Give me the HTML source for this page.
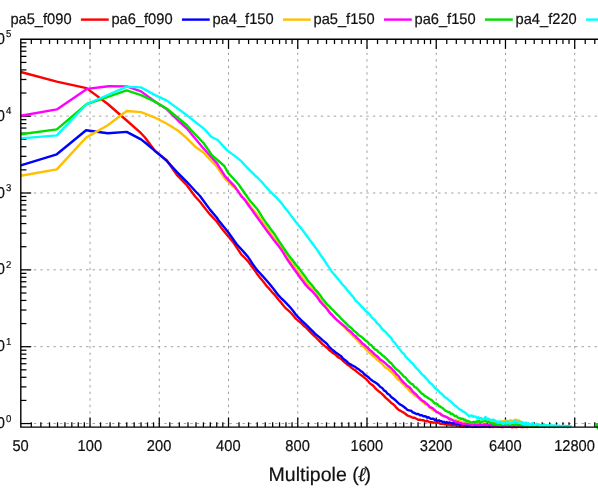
<!DOCTYPE html>
<html><head><meta charset="utf-8"><title>Noise power spectra</title>
<style>
html,body{margin:0;padding:0;background:#fff;}
body{width:598px;height:490px;overflow:hidden;font-family:"Liberation Sans",sans-serif;}
svg{display:block;will-change:transform;}
svg text{font-family:"Liberation Sans",sans-serif;fill:#111;stroke:#111;stroke-width:0.2px;text-rendering:geometricPrecision;}
.lg{font-size:14.67px;}
.tk{font-size:14.67px;}
.sp{font-size:9.6px;}
.ti{font-size:19.55px;}
.grid line{stroke:#a2a2a2;stroke-width:1;stroke-dasharray:2.45 4.07;}
.ax line,.ax path{stroke:#000;fill:none;}
.cv path{fill:none;stroke-width:2.4;stroke-linejoin:round;stroke-linecap:butt;}
</style></head><body>
<svg width="598" height="490" viewBox="0 0 598 490">
<rect x="0" y="0" width="598" height="490" fill="#ffffff"/>
<g>
<g class="grid">
<line x1="90.04" y1="39.30" x2="90.04" y2="427.10" stroke-dashoffset="-0.30"/>
<line x1="159.28" y1="39.30" x2="159.28" y2="427.10" stroke-dashoffset="-0.30"/>
<line x1="228.52" y1="39.30" x2="228.52" y2="427.10" stroke-dashoffset="-0.30"/>
<line x1="297.76" y1="39.30" x2="297.76" y2="427.10" stroke-dashoffset="-0.30"/>
<line x1="367.00" y1="39.30" x2="367.00" y2="427.10" stroke-dashoffset="-0.30"/>
<line x1="436.24" y1="39.30" x2="436.24" y2="427.10" stroke-dashoffset="-0.30"/>
<line x1="505.48" y1="39.30" x2="505.48" y2="427.10" stroke-dashoffset="-0.30"/>
<line x1="574.72" y1="39.30" x2="574.72" y2="427.10" stroke-dashoffset="-0.30"/>
<line x1="20.80" y1="423.55" x2="640.00" y2="423.55" stroke-dashoffset="0.00"/>
<line x1="20.80" y1="346.70" x2="640.00" y2="346.70" stroke-dashoffset="0.00"/>
<line x1="20.80" y1="269.85" x2="640.00" y2="269.85" stroke-dashoffset="0.00"/>
<line x1="20.80" y1="193.00" x2="640.00" y2="193.00" stroke-dashoffset="0.00"/>
<line x1="20.80" y1="116.15" x2="640.00" y2="116.15" stroke-dashoffset="0.00"/>
</g>
<g class="ax">
<line x1="31.32" y1="427.10" x2="31.32" y2="422.30" stroke-width="1.25"/>
<line x1="31.32" y1="39.30" x2="31.32" y2="44.10" stroke-width="1.25"/>
<line x1="40.85" y1="427.10" x2="40.85" y2="422.30" stroke-width="1.25"/>
<line x1="40.85" y1="39.30" x2="40.85" y2="44.10" stroke-width="1.25"/>
<line x1="49.54" y1="427.10" x2="49.54" y2="422.30" stroke-width="1.25"/>
<line x1="49.54" y1="39.30" x2="49.54" y2="44.10" stroke-width="1.25"/>
<line x1="57.53" y1="427.10" x2="57.53" y2="422.30" stroke-width="1.25"/>
<line x1="57.53" y1="39.30" x2="57.53" y2="44.10" stroke-width="1.25"/>
<line x1="64.94" y1="427.10" x2="64.94" y2="422.30" stroke-width="1.25"/>
<line x1="64.94" y1="39.30" x2="64.94" y2="44.10" stroke-width="1.25"/>
<line x1="71.83" y1="427.10" x2="71.83" y2="422.30" stroke-width="1.25"/>
<line x1="71.83" y1="39.30" x2="71.83" y2="44.10" stroke-width="1.25"/>
<line x1="78.27" y1="427.10" x2="78.27" y2="422.30" stroke-width="1.25"/>
<line x1="78.27" y1="39.30" x2="78.27" y2="44.10" stroke-width="1.25"/>
<line x1="84.33" y1="427.10" x2="84.33" y2="422.30" stroke-width="1.25"/>
<line x1="84.33" y1="39.30" x2="84.33" y2="44.10" stroke-width="1.25"/>
<line x1="90.04" y1="427.10" x2="90.04" y2="417.50" stroke-width="1.25"/>
<line x1="90.04" y1="39.30" x2="90.04" y2="48.90" stroke-width="1.25"/>
<line x1="100.56" y1="427.10" x2="100.56" y2="422.30" stroke-width="1.25"/>
<line x1="100.56" y1="39.30" x2="100.56" y2="44.10" stroke-width="1.25"/>
<line x1="110.09" y1="427.10" x2="110.09" y2="422.30" stroke-width="1.25"/>
<line x1="110.09" y1="39.30" x2="110.09" y2="44.10" stroke-width="1.25"/>
<line x1="118.78" y1="427.10" x2="118.78" y2="422.30" stroke-width="1.25"/>
<line x1="118.78" y1="39.30" x2="118.78" y2="44.10" stroke-width="1.25"/>
<line x1="126.77" y1="427.10" x2="126.77" y2="422.30" stroke-width="1.25"/>
<line x1="126.77" y1="39.30" x2="126.77" y2="44.10" stroke-width="1.25"/>
<line x1="134.18" y1="427.10" x2="134.18" y2="422.30" stroke-width="1.25"/>
<line x1="134.18" y1="39.30" x2="134.18" y2="44.10" stroke-width="1.25"/>
<line x1="141.07" y1="427.10" x2="141.07" y2="422.30" stroke-width="1.25"/>
<line x1="141.07" y1="39.30" x2="141.07" y2="44.10" stroke-width="1.25"/>
<line x1="147.51" y1="427.10" x2="147.51" y2="422.30" stroke-width="1.25"/>
<line x1="147.51" y1="39.30" x2="147.51" y2="44.10" stroke-width="1.25"/>
<line x1="153.57" y1="427.10" x2="153.57" y2="422.30" stroke-width="1.25"/>
<line x1="153.57" y1="39.30" x2="153.57" y2="44.10" stroke-width="1.25"/>
<line x1="159.28" y1="427.10" x2="159.28" y2="417.50" stroke-width="1.25"/>
<line x1="159.28" y1="39.30" x2="159.28" y2="48.90" stroke-width="1.25"/>
<line x1="169.80" y1="427.10" x2="169.80" y2="422.30" stroke-width="1.25"/>
<line x1="169.80" y1="39.30" x2="169.80" y2="44.10" stroke-width="1.25"/>
<line x1="179.33" y1="427.10" x2="179.33" y2="422.30" stroke-width="1.25"/>
<line x1="179.33" y1="39.30" x2="179.33" y2="44.10" stroke-width="1.25"/>
<line x1="188.02" y1="427.10" x2="188.02" y2="422.30" stroke-width="1.25"/>
<line x1="188.02" y1="39.30" x2="188.02" y2="44.10" stroke-width="1.25"/>
<line x1="196.01" y1="427.10" x2="196.01" y2="422.30" stroke-width="1.25"/>
<line x1="196.01" y1="39.30" x2="196.01" y2="44.10" stroke-width="1.25"/>
<line x1="203.42" y1="427.10" x2="203.42" y2="422.30" stroke-width="1.25"/>
<line x1="203.42" y1="39.30" x2="203.42" y2="44.10" stroke-width="1.25"/>
<line x1="210.31" y1="427.10" x2="210.31" y2="422.30" stroke-width="1.25"/>
<line x1="210.31" y1="39.30" x2="210.31" y2="44.10" stroke-width="1.25"/>
<line x1="216.75" y1="427.10" x2="216.75" y2="422.30" stroke-width="1.25"/>
<line x1="216.75" y1="39.30" x2="216.75" y2="44.10" stroke-width="1.25"/>
<line x1="222.81" y1="427.10" x2="222.81" y2="422.30" stroke-width="1.25"/>
<line x1="222.81" y1="39.30" x2="222.81" y2="44.10" stroke-width="1.25"/>
<line x1="228.52" y1="427.10" x2="228.52" y2="417.50" stroke-width="1.25"/>
<line x1="228.52" y1="39.30" x2="228.52" y2="48.90" stroke-width="1.25"/>
<line x1="239.04" y1="427.10" x2="239.04" y2="422.30" stroke-width="1.25"/>
<line x1="239.04" y1="39.30" x2="239.04" y2="44.10" stroke-width="1.25"/>
<line x1="248.57" y1="427.10" x2="248.57" y2="422.30" stroke-width="1.25"/>
<line x1="248.57" y1="39.30" x2="248.57" y2="44.10" stroke-width="1.25"/>
<line x1="257.26" y1="427.10" x2="257.26" y2="422.30" stroke-width="1.25"/>
<line x1="257.26" y1="39.30" x2="257.26" y2="44.10" stroke-width="1.25"/>
<line x1="265.25" y1="427.10" x2="265.25" y2="422.30" stroke-width="1.25"/>
<line x1="265.25" y1="39.30" x2="265.25" y2="44.10" stroke-width="1.25"/>
<line x1="272.66" y1="427.10" x2="272.66" y2="422.30" stroke-width="1.25"/>
<line x1="272.66" y1="39.30" x2="272.66" y2="44.10" stroke-width="1.25"/>
<line x1="279.55" y1="427.10" x2="279.55" y2="422.30" stroke-width="1.25"/>
<line x1="279.55" y1="39.30" x2="279.55" y2="44.10" stroke-width="1.25"/>
<line x1="285.99" y1="427.10" x2="285.99" y2="422.30" stroke-width="1.25"/>
<line x1="285.99" y1="39.30" x2="285.99" y2="44.10" stroke-width="1.25"/>
<line x1="292.05" y1="427.10" x2="292.05" y2="422.30" stroke-width="1.25"/>
<line x1="292.05" y1="39.30" x2="292.05" y2="44.10" stroke-width="1.25"/>
<line x1="297.76" y1="427.10" x2="297.76" y2="417.50" stroke-width="1.25"/>
<line x1="297.76" y1="39.30" x2="297.76" y2="48.90" stroke-width="1.25"/>
<line x1="308.28" y1="427.10" x2="308.28" y2="422.30" stroke-width="1.25"/>
<line x1="308.28" y1="39.30" x2="308.28" y2="44.10" stroke-width="1.25"/>
<line x1="317.81" y1="427.10" x2="317.81" y2="422.30" stroke-width="1.25"/>
<line x1="317.81" y1="39.30" x2="317.81" y2="44.10" stroke-width="1.25"/>
<line x1="326.50" y1="427.10" x2="326.50" y2="422.30" stroke-width="1.25"/>
<line x1="326.50" y1="39.30" x2="326.50" y2="44.10" stroke-width="1.25"/>
<line x1="334.49" y1="427.10" x2="334.49" y2="422.30" stroke-width="1.25"/>
<line x1="334.49" y1="39.30" x2="334.49" y2="44.10" stroke-width="1.25"/>
<line x1="341.90" y1="427.10" x2="341.90" y2="422.30" stroke-width="1.25"/>
<line x1="341.90" y1="39.30" x2="341.90" y2="44.10" stroke-width="1.25"/>
<line x1="348.79" y1="427.10" x2="348.79" y2="422.30" stroke-width="1.25"/>
<line x1="348.79" y1="39.30" x2="348.79" y2="44.10" stroke-width="1.25"/>
<line x1="355.23" y1="427.10" x2="355.23" y2="422.30" stroke-width="1.25"/>
<line x1="355.23" y1="39.30" x2="355.23" y2="44.10" stroke-width="1.25"/>
<line x1="361.29" y1="427.10" x2="361.29" y2="422.30" stroke-width="1.25"/>
<line x1="361.29" y1="39.30" x2="361.29" y2="44.10" stroke-width="1.25"/>
<line x1="367.00" y1="427.10" x2="367.00" y2="417.50" stroke-width="1.25"/>
<line x1="367.00" y1="39.30" x2="367.00" y2="48.90" stroke-width="1.25"/>
<line x1="377.52" y1="427.10" x2="377.52" y2="422.30" stroke-width="1.25"/>
<line x1="377.52" y1="39.30" x2="377.52" y2="44.10" stroke-width="1.25"/>
<line x1="387.05" y1="427.10" x2="387.05" y2="422.30" stroke-width="1.25"/>
<line x1="387.05" y1="39.30" x2="387.05" y2="44.10" stroke-width="1.25"/>
<line x1="395.74" y1="427.10" x2="395.74" y2="422.30" stroke-width="1.25"/>
<line x1="395.74" y1="39.30" x2="395.74" y2="44.10" stroke-width="1.25"/>
<line x1="403.73" y1="427.10" x2="403.73" y2="422.30" stroke-width="1.25"/>
<line x1="403.73" y1="39.30" x2="403.73" y2="44.10" stroke-width="1.25"/>
<line x1="411.14" y1="427.10" x2="411.14" y2="422.30" stroke-width="1.25"/>
<line x1="411.14" y1="39.30" x2="411.14" y2="44.10" stroke-width="1.25"/>
<line x1="418.03" y1="427.10" x2="418.03" y2="422.30" stroke-width="1.25"/>
<line x1="418.03" y1="39.30" x2="418.03" y2="44.10" stroke-width="1.25"/>
<line x1="424.47" y1="427.10" x2="424.47" y2="422.30" stroke-width="1.25"/>
<line x1="424.47" y1="39.30" x2="424.47" y2="44.10" stroke-width="1.25"/>
<line x1="430.53" y1="427.10" x2="430.53" y2="422.30" stroke-width="1.25"/>
<line x1="430.53" y1="39.30" x2="430.53" y2="44.10" stroke-width="1.25"/>
<line x1="436.24" y1="427.10" x2="436.24" y2="417.50" stroke-width="1.25"/>
<line x1="436.24" y1="39.30" x2="436.24" y2="48.90" stroke-width="1.25"/>
<line x1="446.76" y1="427.10" x2="446.76" y2="422.30" stroke-width="1.25"/>
<line x1="446.76" y1="39.30" x2="446.76" y2="44.10" stroke-width="1.25"/>
<line x1="456.29" y1="427.10" x2="456.29" y2="422.30" stroke-width="1.25"/>
<line x1="456.29" y1="39.30" x2="456.29" y2="44.10" stroke-width="1.25"/>
<line x1="464.98" y1="427.10" x2="464.98" y2="422.30" stroke-width="1.25"/>
<line x1="464.98" y1="39.30" x2="464.98" y2="44.10" stroke-width="1.25"/>
<line x1="472.97" y1="427.10" x2="472.97" y2="422.30" stroke-width="1.25"/>
<line x1="472.97" y1="39.30" x2="472.97" y2="44.10" stroke-width="1.25"/>
<line x1="480.38" y1="427.10" x2="480.38" y2="422.30" stroke-width="1.25"/>
<line x1="480.38" y1="39.30" x2="480.38" y2="44.10" stroke-width="1.25"/>
<line x1="487.27" y1="427.10" x2="487.27" y2="422.30" stroke-width="1.25"/>
<line x1="487.27" y1="39.30" x2="487.27" y2="44.10" stroke-width="1.25"/>
<line x1="493.71" y1="427.10" x2="493.71" y2="422.30" stroke-width="1.25"/>
<line x1="493.71" y1="39.30" x2="493.71" y2="44.10" stroke-width="1.25"/>
<line x1="499.77" y1="427.10" x2="499.77" y2="422.30" stroke-width="1.25"/>
<line x1="499.77" y1="39.30" x2="499.77" y2="44.10" stroke-width="1.25"/>
<line x1="505.48" y1="427.10" x2="505.48" y2="417.50" stroke-width="1.25"/>
<line x1="505.48" y1="39.30" x2="505.48" y2="48.90" stroke-width="1.25"/>
<line x1="516.00" y1="427.10" x2="516.00" y2="422.30" stroke-width="1.25"/>
<line x1="516.00" y1="39.30" x2="516.00" y2="44.10" stroke-width="1.25"/>
<line x1="525.53" y1="427.10" x2="525.53" y2="422.30" stroke-width="1.25"/>
<line x1="525.53" y1="39.30" x2="525.53" y2="44.10" stroke-width="1.25"/>
<line x1="534.22" y1="427.10" x2="534.22" y2="422.30" stroke-width="1.25"/>
<line x1="534.22" y1="39.30" x2="534.22" y2="44.10" stroke-width="1.25"/>
<line x1="542.21" y1="427.10" x2="542.21" y2="422.30" stroke-width="1.25"/>
<line x1="542.21" y1="39.30" x2="542.21" y2="44.10" stroke-width="1.25"/>
<line x1="549.62" y1="427.10" x2="549.62" y2="422.30" stroke-width="1.25"/>
<line x1="549.62" y1="39.30" x2="549.62" y2="44.10" stroke-width="1.25"/>
<line x1="556.51" y1="427.10" x2="556.51" y2="422.30" stroke-width="1.25"/>
<line x1="556.51" y1="39.30" x2="556.51" y2="44.10" stroke-width="1.25"/>
<line x1="562.95" y1="427.10" x2="562.95" y2="422.30" stroke-width="1.25"/>
<line x1="562.95" y1="39.30" x2="562.95" y2="44.10" stroke-width="1.25"/>
<line x1="569.01" y1="427.10" x2="569.01" y2="422.30" stroke-width="1.25"/>
<line x1="569.01" y1="39.30" x2="569.01" y2="44.10" stroke-width="1.25"/>
<line x1="574.72" y1="427.10" x2="574.72" y2="417.50" stroke-width="1.25"/>
<line x1="574.72" y1="39.30" x2="574.72" y2="48.90" stroke-width="1.25"/>
<line x1="585.24" y1="427.10" x2="585.24" y2="422.30" stroke-width="1.25"/>
<line x1="585.24" y1="39.30" x2="585.24" y2="44.10" stroke-width="1.25"/>
<line x1="594.77" y1="427.10" x2="594.77" y2="422.30" stroke-width="1.25"/>
<line x1="594.77" y1="39.30" x2="594.77" y2="44.10" stroke-width="1.25"/>
<line x1="643.96" y1="427.10" x2="643.96" y2="417.50" stroke-width="1.25"/>
<line x1="643.96" y1="39.30" x2="643.96" y2="48.90" stroke-width="1.25"/>
<line x1="20.80" y1="423.55" x2="31.20" y2="423.55" stroke-width="1.25"/>
<line x1="20.80" y1="400.42" x2="26.40" y2="400.42" stroke-width="1.25"/>
<line x1="20.80" y1="386.88" x2="26.40" y2="386.88" stroke-width="1.25"/>
<line x1="20.80" y1="377.28" x2="26.40" y2="377.28" stroke-width="1.25"/>
<line x1="20.80" y1="369.83" x2="26.40" y2="369.83" stroke-width="1.25"/>
<line x1="20.80" y1="363.75" x2="26.40" y2="363.75" stroke-width="1.25"/>
<line x1="20.80" y1="358.60" x2="26.40" y2="358.60" stroke-width="1.25"/>
<line x1="20.80" y1="354.15" x2="26.40" y2="354.15" stroke-width="1.25"/>
<line x1="20.80" y1="350.22" x2="26.40" y2="350.22" stroke-width="1.25"/>
<line x1="20.80" y1="346.70" x2="31.20" y2="346.70" stroke-width="1.25"/>
<line x1="20.80" y1="323.57" x2="26.40" y2="323.57" stroke-width="1.25"/>
<line x1="20.80" y1="310.03" x2="26.40" y2="310.03" stroke-width="1.25"/>
<line x1="20.80" y1="300.43" x2="26.40" y2="300.43" stroke-width="1.25"/>
<line x1="20.80" y1="292.98" x2="26.40" y2="292.98" stroke-width="1.25"/>
<line x1="20.80" y1="286.90" x2="26.40" y2="286.90" stroke-width="1.25"/>
<line x1="20.80" y1="281.75" x2="26.40" y2="281.75" stroke-width="1.25"/>
<line x1="20.80" y1="277.30" x2="26.40" y2="277.30" stroke-width="1.25"/>
<line x1="20.80" y1="273.37" x2="26.40" y2="273.37" stroke-width="1.25"/>
<line x1="20.80" y1="269.85" x2="31.20" y2="269.85" stroke-width="1.25"/>
<line x1="20.80" y1="246.72" x2="26.40" y2="246.72" stroke-width="1.25"/>
<line x1="20.80" y1="233.18" x2="26.40" y2="233.18" stroke-width="1.25"/>
<line x1="20.80" y1="223.58" x2="26.40" y2="223.58" stroke-width="1.25"/>
<line x1="20.80" y1="216.13" x2="26.40" y2="216.13" stroke-width="1.25"/>
<line x1="20.80" y1="210.05" x2="26.40" y2="210.05" stroke-width="1.25"/>
<line x1="20.80" y1="204.90" x2="26.40" y2="204.90" stroke-width="1.25"/>
<line x1="20.80" y1="200.45" x2="26.40" y2="200.45" stroke-width="1.25"/>
<line x1="20.80" y1="196.52" x2="26.40" y2="196.52" stroke-width="1.25"/>
<line x1="20.80" y1="193.00" x2="31.20" y2="193.00" stroke-width="1.25"/>
<line x1="20.80" y1="169.87" x2="26.40" y2="169.87" stroke-width="1.25"/>
<line x1="20.80" y1="156.33" x2="26.40" y2="156.33" stroke-width="1.25"/>
<line x1="20.80" y1="146.73" x2="26.40" y2="146.73" stroke-width="1.25"/>
<line x1="20.80" y1="139.28" x2="26.40" y2="139.28" stroke-width="1.25"/>
<line x1="20.80" y1="133.20" x2="26.40" y2="133.20" stroke-width="1.25"/>
<line x1="20.80" y1="128.05" x2="26.40" y2="128.05" stroke-width="1.25"/>
<line x1="20.80" y1="123.60" x2="26.40" y2="123.60" stroke-width="1.25"/>
<line x1="20.80" y1="119.67" x2="26.40" y2="119.67" stroke-width="1.25"/>
<line x1="20.80" y1="116.15" x2="31.20" y2="116.15" stroke-width="1.25"/>
<line x1="20.80" y1="93.02" x2="26.40" y2="93.02" stroke-width="1.25"/>
<line x1="20.80" y1="79.48" x2="26.40" y2="79.48" stroke-width="1.25"/>
<line x1="20.80" y1="69.88" x2="26.40" y2="69.88" stroke-width="1.25"/>
<line x1="20.80" y1="62.43" x2="26.40" y2="62.43" stroke-width="1.25"/>
<line x1="20.80" y1="56.35" x2="26.40" y2="56.35" stroke-width="1.25"/>
<line x1="20.80" y1="51.20" x2="26.40" y2="51.20" stroke-width="1.25"/>
<line x1="20.80" y1="46.75" x2="26.40" y2="46.75" stroke-width="1.25"/>
<line x1="20.80" y1="42.82" x2="26.40" y2="42.82" stroke-width="1.25"/>
</g>
<g class="cv" clip-path="url(#cp)">
<defs><clipPath id="cp"><rect x="20.80" y="39.30" width="619.20" height="392.30"/></clipPath></defs>
<path d="M20.8 72.0 L56.8 81.7 L86.5 88.1 L107.8 104.0 L126.7 120.5 L141.0 133.2 L145.0 137.5 L155.0 151.0 L166.7 160.3 L176.8 174.8 L186.8 185.2 L195.2 196.5 L200.0 201.8 L206.0 209.6 L210.0 214.4 L216.7 221.5 L222.6 229.6 L225.0 232.5 L233.4 242.6 L241.8 255.1 L243.0 256.0 L245.4 258.5 L247.8 261.1 L250.2 264.2 L252.6 267.6 L255.0 270.9 L257.4 274.2 L259.8 277.5 L262.2 280.3 L264.6 283.3 L267.0 286.4 L269.4 288.9 L271.8 291.8 L274.2 294.3 L276.6 297.3 L279.0 300.2 L281.4 302.9 L283.8 306.0 L286.2 308.7 L288.6 310.7 L291.0 313.0 L293.4 315.8 L295.8 318.6 L298.2 320.6 L300.6 322.7 L303.0 325.0 L305.4 327.0 L307.8 329.4 L310.2 331.9 L312.6 334.3 L315.0 336.5 L317.4 339.0 L319.8 341.4 L322.2 343.8 L324.6 345.9 L327.0 347.7 L329.4 350.3 L331.8 352.1 L333.6 353.5 L335.4 354.5 L337.2 356.5 L339.0 357.8 L340.8 358.7 L342.6 360.3 L344.4 362.1 L346.2 363.5 L348.0 365.1 L349.8 366.2 L351.6 367.9 L353.4 369.2 L355.2 370.3 L357.0 371.9 L358.8 373.4 L360.6 374.7 L362.4 375.9 L364.2 377.6 L366.0 378.9 L367.8 380.8 L369.6 383.1 L371.4 384.4 L373.2 385.8 L375.0 387.8 L376.8 389.6 L378.6 391.2 L380.4 392.5 L382.2 394.2 L384.0 395.9 L385.8 397.9 L387.6 399.4 L389.4 401.0 L391.2 402.9 L393.0 404.1 L394.8 405.7 L396.6 407.9 L398.4 409.7 L400.2 410.6 L402.0 411.7 L403.8 412.6 L405.6 414.0 L407.4 415.5 L409.2 416.2 L411.0 416.8 L412.8 417.8 L414.6 417.8 L416.4 418.7 L418.2 419.7 L420.0 419.8 L421.8 420.1 L423.1 420.2 L424.4 420.7 L425.8 421.4 L427.1 420.6 L428.4 421.7 L429.7 422.0 L431.0 422.3 L432.4 422.3 L433.7 422.6 L435.0 422.5 L436.3 422.8 L437.6 422.9 L439.0 422.8 L440.3 423.9 L441.6 423.8 L442.9 423.7 L444.2 424.2 L445.6 424.4 L446.9 424.4 L448.2 424.6 L449.5 424.9 L450.8 425.2 L452.2 425.3 L453.5 425.3 L454.8 424.9 L456.1 425.2 L457.4 425.3 L458.8 425.9 L460.1 426.3 L461.4 426.3 L462.7 426.4 L464.0 426.6 L465.4 426.0 L466.7 426.8 L468.0 426.7 L469.3 426.1 L470.6 426.1 L471.5 426.1 L472.4 427.0 L473.3 426.4 L474.2 426.3 L475.1 426.8 L476.0 426.5 L476.9 426.2 L477.8 426.3 L478.7 426.7 L479.6 426.3 L480.5 426.5 L481.4 426.9 L482.3 426.7 L483.2 426.5 L484.1 426.7 L485.0 426.2 L485.9 426.6 L486.8 426.6 L487.7 426.4 L488.6 426.3 L489.5 427.1 L490.4 426.7 L491.3 426.4 L492.2 426.8 L493.1 427.0 L494.0 426.2 L494.9 426.2 L495.8 426.3 L496.7 426.9 L497.6 426.3 L498.5 426.9 L499.4 426.9 L500.3 426.7 L501.2 426.4 L502.1 427.2 L503.0 427.0 L503.9 426.7 L504.8 426.4 L505.7 426.9 L506.6 426.6 L507.5 426.8 L508.4 426.5 L509.3 426.8 L510.2 426.2 L511.1 426.5 L512.0 427.2 L512.9 427.1 L513.8 426.5 L514.7 427.1 L515.6 426.5 L516.5 427.2 L517.4 426.9 L518.3 426.6 L519.2 426.5 L520.1 426.2 L521.0 427.0 L521.9 426.3 L522.8 427.0 L523.7 427.1 L524.6 426.8 L525.5 426.5 L526.4 427.0 L527.3 427.0 L528.2 426.8 L529.1 426.7 L530.0 426.6 L530.9 426.6 L531.8 426.5 L532.7 426.8 L533.6 426.7 L534.5 426.5 L535.4 426.5 L536.3 426.8 L537.2 426.6 L538.1 426.7 L539.0 426.6 L539.9 426.9 L540.8 426.9 L541.7 426.4 L542.6 426.5 L543.5 426.6 L544.4 427.0 L545.3 426.9 L546.2 426.6 L547.1 426.5 L548.0 426.8 L548.9 426.9 L549.8 427.0 L550.7 426.6 L551.6 426.9 L552.5 426.8 L553.4 426.7 L554.3 427.0 L555.2 426.5 L556.1 426.8 L557.0 426.5 L557.9 426.5 L558.8 426.9 L559.7 426.5 L560.6 426.9 L561.5 426.8 L562.4 426.9 L563.3 426.6 L564.2 426.6 L565.1 426.6 L566.0 426.9 L566.9 426.8 L567.8 427.0 L568.7 426.9 L569.6 426.5 L570.5 426.7" stroke="#ff0000"/>
<path d="M20.8 165.3 L56.8 154.3 L86.1 130.2 L107.8 133.3 L126.7 131.9 L141.0 139.4 L145.0 142.5 L155.0 150.9 L166.7 160.9 L176.8 171.8 L186.8 181.8 L195.2 191.0 L200.0 196.0 L210.2 209.9 L216.7 217.5 L218.3 220.0 L228.4 232.5 L236.7 244.2 L243.0 251.1 L245.4 253.9 L247.8 256.6 L250.2 260.1 L252.6 263.9 L255.0 267.3 L257.4 270.4 L259.8 273.0 L262.2 275.6 L264.6 278.2 L267.0 281.0 L269.4 283.8 L271.8 286.8 L274.2 289.8 L276.6 292.9 L279.0 295.9 L281.4 298.5 L283.8 300.7 L286.2 303.1 L288.6 305.6 L291.0 308.3 L293.4 311.3 L295.8 314.5 L298.2 317.2 L300.6 319.5 L303.0 321.9 L305.4 324.0 L307.8 326.4 L310.2 328.8 L312.6 331.2 L315.0 333.7 L317.4 335.6 L319.8 337.6 L322.2 339.8 L324.6 341.8 L327.0 343.9 L329.4 347.1 L331.8 349.4 L333.6 350.8 L335.4 352.2 L337.2 353.4 L339.0 354.7 L340.8 355.9 L342.6 358.0 L344.4 359.7 L346.2 360.8 L348.0 362.8 L349.8 364.1 L351.6 364.9 L353.4 366.0 L355.2 366.9 L357.0 368.4 L358.8 369.3 L360.6 370.9 L362.4 372.0 L364.2 374.0 L366.0 375.6 L367.8 376.7 L369.6 378.3 L371.4 380.0 L373.2 381.2 L375.0 382.3 L376.8 383.4 L378.6 385.0 L380.4 387.0 L382.2 388.0 L384.0 390.4 L385.8 391.4 L387.6 393.7 L389.4 394.7 L391.2 397.0 L393.0 398.3 L394.8 399.7 L396.6 401.4 L398.4 403.1 L400.2 404.5 L402.0 405.6 L403.8 406.8 L405.6 408.2 L407.4 409.8 L409.2 410.4 L411.0 410.7 L412.8 412.4 L414.6 413.0 L416.4 414.0 L418.2 413.9 L420.0 415.2 L421.8 415.1 L423.1 416.2 L424.4 416.2 L425.8 416.5 L427.1 417.7 L428.4 417.2 L429.7 418.1 L431.0 418.9 L432.4 418.6 L433.7 419.0 L435.0 420.1 L436.3 420.0 L437.6 420.7 L439.0 420.4 L440.3 421.1 L441.6 421.3 L442.9 422.1 L444.2 421.8 L445.6 423.0 L446.9 422.1 L448.2 423.1 L449.5 422.4 L450.8 422.8 L452.2 423.6 L453.5 423.1 L454.8 423.3 L456.1 424.0 L457.4 423.9 L458.8 423.6 L460.1 425.0 L461.4 424.2 L462.7 424.3 L464.0 425.0 L465.4 425.6 L466.7 426.0 L468.0 425.5 L469.3 426.0 L470.6 425.7 L471.5 426.3 L472.4 426.7 L473.3 426.7 L474.2 426.9 L475.1 426.7 L476.0 426.9 L476.9 426.7 L477.8 426.3 L478.7 426.0 L479.6 426.4 L480.5 425.9 L481.4 425.5 L482.3 425.7 L483.2 426.1 L484.1 425.1 L485.0 425.6 L485.9 425.3 L486.8 425.4 L487.7 425.0 L488.6 426.0 L489.5 425.3 L490.4 425.8 L491.3 425.7 L492.2 425.3 L493.1 426.0 L494.0 425.6 L494.9 425.5 L495.8 425.5 L496.7 425.7 L497.6 425.6 L498.5 426.3 L499.4 426.2 L500.3 426.7 L501.2 426.7 L502.1 426.8 L503.0 425.9 L503.9 426.1 L504.8 425.9 L505.7 426.3 L506.6 426.4 L507.5 426.6 L508.4 426.5 L509.3 425.9 L510.2 426.1 L511.1 426.3 L512.0 425.6 L512.9 425.7 L513.8 426.1 L514.7 425.8 L515.6 426.5 L516.5 426.0 L517.4 425.8 L518.3 425.9 L519.2 426.0 L520.1 426.0 L521.0 426.3 L521.9 426.3 L522.8 426.1 L523.7 426.4 L524.6 426.1 L525.5 426.6 L526.4 426.7 L527.3 426.5 L528.2 426.3 L529.1 426.3 L530.0 426.4 L530.9 426.1 L531.8 426.3 L532.7 426.3 L533.6 426.1 L534.5 426.1 L535.4 426.5 L536.3 426.3 L537.2 426.3 L538.1 426.6 L539.0 426.4 L539.9 426.2 L540.8 426.6 L541.7 426.3 L542.6 426.1 L543.5 426.5 L544.4 426.1 L545.3 426.2 L546.2 426.6 L547.1 426.5 L548.0 426.1 L548.9 426.3 L549.8 426.3 L550.7 426.4 L551.6 426.2 L552.5 426.4 L553.4 426.1 L554.3 426.2 L555.2 426.3 L556.1 426.6 L557.0 426.1 L557.9 426.5 L558.8 426.2 L559.7 426.4 L560.6 426.3 L561.5 426.4 L562.4 426.5 L563.3 426.3 L564.2 426.2 L565.1 426.2 L566.0 426.1 L566.9 426.6 L567.8 426.5 L568.7 426.7 L569.6 426.5 L570.5 426.1" stroke="#0000ff"/>
<path d="M20.8 175.7 L56.8 169.4 L86.1 137.6 L107.8 125.3 L126.7 111.0 L141.0 112.1 L155.2 117.7 L166.9 123.8 L178.6 131.0 L186.9 138.4 L195.2 146.7 L203.5 152.6 L216.9 166.8 L225.2 178.9 L235.1 188.5 L237.0 189.9 L241.8 196.3 L243.0 197.2 L245.4 199.6 L247.8 202.7 L250.2 206.0 L252.6 209.1 L255.0 212.0 L257.4 215.0 L259.8 218.4 L262.2 221.6 L264.6 225.0 L267.0 228.5 L269.4 231.5 L271.8 235.0 L274.2 238.2 L276.6 241.0 L279.0 243.6 L281.4 247.0 L283.8 251.0 L286.2 254.9 L288.6 258.9 L291.0 262.3 L293.4 265.1 L295.8 268.7 L298.2 271.9 L300.6 275.2 L303.0 278.5 L305.4 282.1 L307.8 284.5 L310.2 287.0 L312.6 289.5 L315.0 292.1 L317.4 295.6 L319.8 299.0 L322.2 302.2 L324.6 304.9 L327.0 308.6 L329.4 311.6 L331.8 314.0 L333.6 316.1 L335.4 318.3 L337.2 320.7 L339.0 322.0 L340.8 323.7 L342.6 325.2 L344.4 327.1 L346.2 328.8 L348.0 330.6 L349.8 332.5 L351.6 334.3 L353.4 336.3 L355.2 337.9 L357.0 339.9 L358.8 341.8 L360.6 343.9 L362.4 345.5 L364.2 347.0 L366.0 349.4 L367.8 351.2 L369.6 352.8 L371.4 354.2 L373.2 356.1 L375.0 357.2 L376.8 359.4 L378.6 360.9 L380.4 362.4 L382.2 363.9 L384.0 366.2 L385.8 367.8 L387.6 368.3 L389.4 370.5 L391.2 371.8 L393.0 373.5 L394.8 375.5 L396.6 377.9 L398.4 379.9 L400.2 380.8 L402.0 383.3 L403.8 384.4 L405.6 386.8 L407.4 388.1 L409.2 390.4 L411.0 392.1 L412.8 393.3 L414.6 395.5 L416.4 396.4 L418.2 397.7 L420.0 399.9 L421.8 400.8 L423.1 402.0 L424.4 403.2 L425.8 404.5 L427.1 405.0 L428.4 405.8 L429.7 407.7 L431.0 408.0 L432.4 409.6 L433.7 410.5 L435.0 410.7 L436.3 411.6 L437.6 412.4 L439.0 413.3 L440.3 413.9 L441.6 414.6 L442.9 415.4 L444.2 416.4 L445.6 416.6 L446.9 417.1 L448.2 418.0 L449.5 418.0 L450.8 418.6 L452.2 419.9 L453.5 419.9 L454.8 420.4 L456.1 420.1 L457.4 420.9 L458.8 421.4 L460.1 421.1 L461.4 422.1 L462.7 422.5 L464.0 422.1 L465.4 423.1 L466.7 423.2 L468.0 423.7 L469.3 423.4 L470.6 424.0 L471.5 424.1 L472.4 423.3 L473.3 423.3 L474.2 423.9 L475.1 424.1 L476.0 423.1 L476.9 423.1 L477.8 423.0 L478.7 422.5 L479.6 422.3 L480.5 422.1 L481.4 421.9 L482.3 422.0 L483.2 421.4 L484.1 421.3 L485.0 421.6 L485.9 420.6 L486.8 421.2 L487.7 421.5 L488.6 421.2 L489.5 421.3 L490.4 422.3 L491.3 421.8 L492.2 422.0 L493.1 422.5 L494.0 422.9 L494.9 422.2 L495.8 422.5 L496.7 422.5 L497.6 423.0 L498.5 422.5 L499.4 422.8 L500.3 421.6 L501.2 421.5 L502.1 421.5 L503.0 421.5 L503.9 421.0 L504.8 420.8 L505.7 420.8 L506.6 421.4 L507.5 420.9 L508.4 421.5 L509.3 421.3 L510.2 420.3 L511.1 420.4 L512.0 421.0 L512.9 420.8 L513.8 420.8 L514.7 420.1 L515.6 419.6 L516.5 419.8 L517.4 420.6 L518.3 420.4 L519.2 420.9 L520.1 421.4 L521.0 421.9 L521.9 422.3 L522.8 423.1 L523.7 422.8 L524.6 423.0 L525.5 424.0 L526.4 424.2 L527.3 424.5 L528.2 424.3 L529.1 424.8 L530.0 424.9 L530.9 424.6 L531.8 425.0 L532.7 425.2 L533.6 425.2 L534.5 425.2 L535.4 425.2 L536.3 425.3 L537.2 425.3 L538.1 425.3 L539.0 425.6 L539.9 425.5 L540.8 425.9 L541.7 425.5 L542.6 426.1 L543.5 426.0 L544.4 426.2 L545.3 426.2 L546.2 426.2 L547.1 426.1 L548.0 425.8 L548.9 426.2 L549.8 425.9 L550.7 426.0 L551.6 426.2 L552.5 426.1 L553.4 426.1 L554.3 426.4 L555.2 426.2 L556.1 426.1 L557.0 426.0 L557.9 426.4 L558.8 426.2 L559.7 426.4 L560.6 426.2 L561.5 426.1 L562.4 426.3 L563.3 426.5 L564.2 426.1 L565.1 426.5 L566.0 426.6 L566.9 426.5 L567.8 426.5 L568.7 426.1 L569.6 426.4 L570.5 426.6" stroke="#ffc000"/>
<path d="M20.8 115.7 L56.8 109.4 L86.9 88.9 L108.6 86.3 L126.7 86.4 L141.0 91.4 L155.2 101.8 L166.9 109.3 L178.6 121.0 L186.9 128.5 L203.5 148.4 L205.0 150.0 L216.9 163.4 L225.2 176.4 L235.1 186.8 L241.8 196.8 L243.0 198.0 L245.4 200.7 L247.8 204.2 L250.2 207.6 L252.6 210.8 L255.0 214.2 L257.4 217.6 L259.8 220.9 L262.2 224.3 L264.6 227.6 L267.0 231.0 L269.4 234.1 L271.8 237.4 L274.2 240.6 L276.6 243.5 L279.0 246.6 L281.4 249.9 L283.8 253.7 L286.2 257.7 L288.6 261.4 L291.0 264.8 L293.4 268.2 L295.8 271.5 L298.2 274.8 L300.6 278.3 L303.0 281.2 L305.4 284.6 L307.8 287.3 L310.2 289.5 L312.6 291.7 L315.0 294.6 L317.4 297.4 L319.8 301.1 L322.2 303.8 L324.6 306.3 L327.0 309.0 L329.4 312.3 L331.8 314.8 L333.6 316.9 L335.4 318.7 L337.2 320.2 L339.0 321.7 L340.8 323.3 L342.6 324.7 L344.4 326.1 L346.2 327.9 L348.0 329.9 L349.8 330.9 L351.6 332.5 L353.4 334.6 L355.2 335.9 L357.0 337.8 L358.8 339.5 L360.6 341.2 L362.4 343.5 L364.2 344.6 L366.0 346.4 L367.8 347.9 L369.6 349.9 L371.4 351.2 L373.2 352.9 L375.0 354.8 L376.8 355.9 L378.6 357.8 L380.4 359.8 L382.2 360.6 L384.0 362.1 L385.8 363.6 L387.6 365.5 L389.4 366.8 L391.2 368.2 L393.0 370.2 L394.8 372.1 L396.6 374.4 L398.4 375.9 L400.2 378.5 L402.0 380.7 L403.8 382.6 L405.6 384.2 L407.4 386.2 L409.2 387.0 L411.0 389.1 L412.8 391.6 L414.6 393.2 L416.4 394.6 L418.2 397.0 L420.0 398.4 L421.8 400.3 L423.1 400.9 L424.4 401.8 L425.8 403.2 L427.1 404.0 L428.4 405.3 L429.7 407.1 L431.0 407.4 L432.4 408.1 L433.7 409.2 L435.0 410.3 L436.3 411.8 L437.6 412.2 L439.0 413.0 L440.3 413.6 L441.6 415.3 L442.9 415.5 L444.2 416.1 L445.6 416.6 L446.9 417.3 L448.2 418.1 L449.5 419.3 L450.8 419.3 L452.2 419.8 L453.5 420.9 L454.8 421.1 L456.1 422.4 L457.4 421.8 L458.8 422.6 L460.1 423.2 L461.4 423.1 L462.7 424.1 L464.0 423.8 L465.4 423.8 L466.7 424.3 L468.0 424.0 L469.3 424.6 L470.6 424.6 L471.5 425.4 L472.4 425.4 L473.3 425.0 L474.2 424.5 L475.1 424.7 L476.0 424.7 L476.9 424.6 L477.8 424.6 L478.7 425.4 L479.6 424.4 L480.5 424.3 L481.4 425.2 L482.3 424.7 L483.2 425.1 L484.1 424.3 L485.0 424.9 L485.9 424.5 L486.8 424.7 L487.7 424.8 L488.6 424.6 L489.5 424.3 L490.4 424.7 L491.3 425.7 L492.2 425.9 L493.1 426.1 L494.0 425.5 L494.9 426.0 L495.8 426.2 L496.7 426.0 L497.6 426.3 L498.5 426.0 L499.4 426.1 L500.3 426.2 L501.2 425.7 L502.1 426.5 L503.0 426.6 L503.9 425.5 L504.8 426.6 L505.7 426.6 L506.6 426.3 L507.5 425.5 L508.4 426.5 L509.3 425.6 L510.2 426.6 L511.1 426.2 L512.0 425.5 L512.9 425.6 L513.8 426.1 L514.7 426.0 L515.6 426.1 L516.5 426.2 L517.4 425.4 L518.3 425.2 L519.2 426.2 L520.1 425.4 L521.0 426.4 L521.9 425.7 L522.8 426.4 L523.7 426.4 L524.6 426.5 L525.5 426.3 L526.4 426.5 L527.3 426.0 L528.2 426.3 L529.1 426.1 L530.0 426.5 L530.9 426.4 L531.8 426.2 L532.7 426.3 L533.6 426.0 L534.5 426.0 L535.4 426.3 L536.3 426.3 L537.2 426.5 L538.1 426.3 L539.0 426.1 L539.9 426.2 L540.8 426.4 L541.7 426.3 L542.6 426.0 L543.5 426.5 L544.4 426.5 L545.3 426.0 L546.2 426.3 L547.1 426.2 L548.0 426.5 L548.9 426.2 L549.8 426.2 L550.7 426.3 L551.6 426.6 L552.5 426.1 L553.4 426.1 L554.3 426.4 L555.2 426.6 L556.1 426.3 L557.0 426.3 L557.9 426.6 L558.8 426.5 L559.7 426.1 L560.6 426.6 L561.5 426.2 L562.4 426.2 L563.3 426.6 L564.2 426.3 L565.1 426.6 L566.0 426.2 L566.9 426.6 L567.8 426.2 L568.7 426.2 L569.6 426.4 L570.5 426.3" stroke="#ff00ff"/>
<path d="M20.8 134.2 L56.8 129.4 L86.9 104.0 L107.8 96.8 L126.7 90.4 L141.0 95.1 L153.5 100.9 L166.9 108.8 L186.9 125.2 L191.0 130.0 L203.5 143.0 L208.4 150.0 L211.9 155.1 L224.3 166.0 L228.4 173.4 L230.3 175.2 L238.5 184.3 L243.0 190.7 L245.4 194.2 L247.8 197.6 L250.2 201.0 L252.6 203.7 L255.0 206.5 L257.4 209.3 L259.8 213.2 L262.2 217.2 L264.6 220.6 L267.0 224.1 L269.4 227.2 L271.8 230.6 L274.2 233.7 L276.6 237.3 L279.0 241.1 L281.4 244.7 L283.8 248.3 L286.2 251.7 L288.6 255.2 L291.0 258.4 L293.4 261.2 L295.8 264.5 L298.2 267.2 L300.6 270.6 L303.0 273.8 L305.4 277.0 L307.8 280.6 L310.2 283.2 L312.6 286.1 L315.0 289.2 L317.4 291.9 L319.8 294.7 L322.2 298.4 L324.6 301.3 L327.0 304.3 L329.4 306.4 L331.8 309.2 L333.6 310.7 L335.4 312.7 L337.2 314.6 L339.0 316.2 L340.8 318.3 L342.6 320.1 L344.4 321.9 L346.2 323.5 L348.0 325.3 L349.8 327.1 L351.6 328.3 L353.4 330.4 L355.2 331.7 L357.0 333.3 L358.8 335.2 L360.6 336.3 L362.4 337.6 L364.2 339.3 L366.0 341.0 L367.8 342.0 L369.6 344.5 L371.4 345.2 L373.2 347.6 L375.0 349.3 L376.8 350.1 L378.6 352.3 L380.4 353.3 L382.2 355.2 L384.0 356.3 L385.8 358.1 L387.6 359.8 L389.4 362.1 L391.2 363.1 L393.0 365.6 L394.8 367.7 L396.6 369.5 L398.4 370.7 L400.2 372.5 L402.0 374.4 L403.8 376.5 L405.6 377.6 L407.4 380.1 L409.2 381.9 L411.0 383.7 L412.8 384.4 L414.6 387.1 L416.4 387.7 L418.2 389.7 L420.0 391.7 L421.8 393.6 L423.1 394.1 L424.4 395.7 L425.8 396.4 L427.1 397.2 L428.4 398.2 L429.7 399.0 L431.0 399.8 L432.4 400.8 L433.7 402.3 L435.0 403.6 L436.3 403.5 L437.6 404.2 L439.0 406.1 L440.3 406.5 L441.6 407.4 L442.9 408.2 L444.2 409.7 L445.6 410.9 L446.9 411.3 L448.2 412.0 L449.5 412.2 L450.8 414.0 L452.2 413.7 L453.5 415.0 L454.8 416.2 L456.1 415.8 L457.4 417.2 L458.8 418.1 L460.1 418.3 L461.4 419.1 L462.7 418.7 L464.0 419.7 L465.4 419.8 L466.7 421.4 L468.0 420.9 L469.3 421.5 L470.6 422.6 L471.5 422.4 L472.4 422.7 L473.3 421.9 L474.2 422.0 L475.1 422.3 L476.0 421.8 L476.9 421.4 L477.8 421.5 L478.7 421.0 L479.6 421.3 L480.5 422.2 L481.4 422.0 L482.3 421.4 L483.2 421.2 L484.1 420.9 L485.0 420.5 L485.9 420.8 L486.8 421.8 L487.7 422.1 L488.6 421.6 L489.5 422.6 L490.4 422.9 L491.3 423.1 L492.2 423.4 L493.1 423.9 L494.0 423.5 L494.9 424.2 L495.8 423.7 L496.7 424.2 L497.6 424.8 L498.5 424.8 L499.4 424.2 L500.3 425.3 L501.2 424.9 L502.1 424.9 L503.0 424.0 L503.9 424.9 L504.8 424.4 L505.7 425.1 L506.6 424.8 L507.5 425.3 L508.4 425.1 L509.3 425.3 L510.2 424.5 L511.1 425.0 L512.0 425.0 L512.9 425.1 L513.8 424.3 L514.7 425.0 L515.6 425.0 L516.5 424.8 L517.4 425.3 L518.3 425.4 L519.2 424.9 L520.1 425.1 L521.0 424.8 L521.9 425.6 L522.8 425.8 L523.7 425.3 L524.6 425.5 L525.5 425.6 L526.4 425.6 L527.3 425.2 L528.2 425.7 L529.1 425.6 L530.0 425.6 L530.9 425.5 L531.8 425.7 L532.7 425.8 L533.6 425.7 L534.5 425.8 L535.4 425.4 L536.3 425.5 L537.2 425.7 L538.1 425.9 L539.0 425.7 L539.9 426.0 L540.8 426.0 L541.7 425.6 L542.6 425.9 L543.5 425.8 L544.4 425.7 L545.3 425.8 L546.2 426.0 L547.1 425.9 L548.0 425.9 L548.9 425.9 L549.8 426.2 L550.7 426.1 L551.6 426.3 L552.5 426.3 L553.4 426.1 L554.3 426.5 L555.2 426.0 L556.1 426.2 L557.0 426.2 L557.9 426.3 L558.8 426.1 L559.7 426.5 L560.6 426.3 L561.5 426.1 L562.4 426.4 L563.3 426.1 L564.2 426.4 L565.1 426.3 L566.0 426.5 L566.9 426.7 L567.8 426.6 L568.7 426.4 L569.6 426.7 L570.5 426.6" stroke="#00de00"/>
<path d="M20.8 138.4 L56.8 135.4 L86.9 104.0 L107.8 95.0 L126.7 86.7 L141.0 87.4 L155.2 95.1 L166.9 100.6 L186.9 115.2 L205.0 129.6 L211.1 136.7 L217.7 140.0 L226.9 150.1 L237.0 157.6 L241.8 161.7 L243.0 163.1 L245.4 165.7 L247.8 168.2 L250.2 170.7 L252.6 172.9 L255.0 175.4 L257.4 177.5 L259.8 180.0 L262.2 182.4 L264.6 185.3 L267.0 188.0 L269.4 190.8 L271.8 193.2 L274.2 195.3 L276.6 197.7 L279.0 200.4 L281.4 203.1 L283.8 206.3 L286.2 209.4 L288.6 212.2 L291.0 215.6 L293.4 218.8 L295.8 222.0 L298.2 224.8 L300.6 227.5 L303.0 230.7 L305.4 234.0 L307.8 237.3 L310.2 240.6 L312.6 243.7 L315.0 247.0 L317.4 250.1 L319.8 254.0 L322.2 257.3 L324.6 260.7 L327.0 264.6 L329.4 267.9 L331.8 271.7 L333.6 273.8 L335.4 275.7 L337.2 278.0 L339.0 280.3 L340.8 282.5 L342.6 284.8 L344.4 286.3 L346.2 288.7 L348.0 291.0 L349.8 293.0 L351.6 295.4 L353.4 297.2 L355.2 300.1 L357.0 301.8 L358.8 303.3 L360.6 305.7 L362.4 307.3 L364.2 309.2 L366.0 311.3 L367.8 312.7 L369.6 314.4 L371.4 317.0 L373.2 318.8 L375.0 320.2 L376.8 323.0 L378.6 324.2 L380.4 326.5 L382.2 329.0 L384.0 330.6 L385.8 332.2 L387.6 334.2 L389.4 336.2 L391.2 338.1 L393.0 341.3 L394.8 342.6 L396.6 345.3 L398.4 348.0 L400.2 349.8 L402.0 352.5 L403.8 353.7 L405.6 356.5 L407.4 358.3 L409.2 360.0 L411.0 362.2 L412.8 363.7 L414.6 366.1 L416.4 368.1 L418.2 369.8 L420.0 371.9 L421.8 374.2 L423.1 375.3 L424.4 376.3 L425.8 378.3 L427.1 379.2 L428.4 380.9 L429.7 382.7 L431.0 383.5 L432.4 384.7 L433.7 386.2 L435.0 388.1 L436.3 389.0 L437.6 390.1 L439.0 391.4 L440.3 393.1 L441.6 393.6 L442.9 395.1 L444.2 396.8 L445.6 397.6 L446.9 398.3 L448.2 399.6 L449.5 400.7 L450.8 401.5 L452.2 402.9 L453.5 404.0 L454.8 405.6 L456.1 406.1 L457.4 407.4 L458.8 408.8 L460.1 409.7 L461.4 410.0 L462.7 411.3 L464.0 411.9 L465.4 413.0 L466.7 414.0 L468.0 415.3 L469.3 416.2 L470.6 415.6 L472.0 415.5 L473.3 416.8 L474.6 416.3 L475.9 416.6 L477.2 418.4 L478.6 417.2 L479.9 418.7 L481.2 418.0 L482.5 419.4 L483.8 419.2 L485.2 417.2 L486.1 417.6 L487.0 419.6 L487.9 418.9 L488.8 418.6 L489.7 419.8 L490.6 420.2 L491.5 419.8 L492.4 420.1 L493.3 419.6 L494.2 420.6 L495.1 420.4 L496.0 422.0 L496.9 422.3 L497.8 421.3 L498.7 422.8 L499.6 421.6 L500.5 421.7 L501.4 423.1 L502.3 422.6 L503.2 423.7 L504.1 423.0 L505.0 423.1 L505.9 421.6 L506.8 423.4 L507.7 421.4 L508.6 422.8 L509.5 423.5 L510.4 423.4 L511.3 423.2 L512.2 421.9 L513.1 422.4 L514.0 422.4 L514.9 420.6 L515.8 422.6 L516.7 422.5 L517.6 421.5 L518.5 422.6 L519.4 422.1 L520.3 422.0 L521.2 423.4 L522.1 422.0 L523.0 424.0 L523.9 424.6 L524.8 422.9 L525.7 424.7 L526.6 422.6 L527.5 424.7 L528.4 423.3 L529.3 425.0 L530.2 423.9 L531.1 425.0 L532.0 423.2 L532.9 423.5 L533.8 425.0 L534.7 424.8 L535.6 424.7 L536.5 424.0 L537.4 424.3 L538.3 424.8 L539.2 424.4 L540.1 425.8 L541.0 425.5 L541.9 425.8 L542.8 425.6 L543.7 425.2 L544.6 425.0 L545.5 425.8 L546.4 425.2 L547.3 425.7 L548.2 425.6 L549.1 425.7 L550.0 425.3 L550.9 425.3 L551.8 425.9 L552.7 425.4 L553.6 425.9 L554.5 425.5 L555.4 425.7 L556.3 425.6 L557.2 426.1 L558.1 425.9 L559.0 425.8 L559.9 425.8 L560.8 426.2 L561.7 426.6 L562.6 426.1 L563.5 425.8 L564.4 426.0 L565.3 425.9 L566.2 426.3 L567.1 426.5 L568.0 426.3 L568.9 425.9 L569.8 426.1 L570.7 426.1 L571.6 426.2" stroke="#00ffff"/>
</g>
<path d="M594.6 423.4 L600 422.6 L600 428 L597.6 429.8 L596.2 427.6 Z" fill="#00de00"/>
<path d="M20.80 39.30 H640.00 V427.10 H20.80 Z" stroke="#000" fill="none" stroke-width="1.4"/>
<g class="tk" text-anchor="middle">
<text transform="translate(20.60 451.10) scale(1 1.07)">50</text>
<text transform="translate(89.84 451.10) scale(1 1.07)">100</text>
<text transform="translate(159.08 451.10) scale(1 1.07)">200</text>
<text transform="translate(228.32 451.10) scale(1 1.07)">400</text>
<text transform="translate(297.56 451.10) scale(1 1.07)">800</text>
<text transform="translate(366.80 451.10) scale(1 1.07)">1600</text>
<text transform="translate(436.04 451.10) scale(1 1.07)">3200</text>
<text transform="translate(505.28 451.10) scale(1 1.07)">6400</text>
<text transform="translate(574.52 451.10) scale(1 1.07)">12800</text>
</g>
<g>
<text class="tk" text-anchor="end" transform="translate(5.00 428.15) scale(1 1.07)">10</text>
<text class="sp" transform="translate(5.90 421.55) scale(1 1.045)">0</text>
<text class="tk" text-anchor="end" transform="translate(5.00 351.30) scale(1 1.07)">10</text>
<text class="sp" transform="translate(5.90 344.70) scale(1 1.045)">1</text>
<text class="tk" text-anchor="end" transform="translate(5.00 274.45) scale(1 1.07)">10</text>
<text class="sp" transform="translate(5.90 267.85) scale(1 1.045)">2</text>
<text class="tk" text-anchor="end" transform="translate(5.00 197.60) scale(1 1.07)">10</text>
<text class="sp" transform="translate(5.90 191.00) scale(1 1.045)">3</text>
<text class="tk" text-anchor="end" transform="translate(5.00 120.75) scale(1 1.07)">10</text>
<text class="sp" transform="translate(5.90 114.15) scale(1 1.045)">4</text>
<text class="tk" text-anchor="end" transform="translate(5.00 43.90) scale(1 1.07)">10</text>
<text class="sp" transform="translate(5.90 37.30) scale(1 1.045)">5</text>
</g>
<text class="ti" x="268.60" y="480.50">Multipole (</text>
<text x="357.80" y="480.50" style="font-family:'Liberation Serif',serif;font-style:italic;font-size:19.5px">ℓ</text>
<text class="ti" x="364.60" y="480.50">)</text>
<g>
<text class="lg" transform="translate(10.40 23.90) scale(1 1.045)">pa5_f090</text>
<line x1="80.90" y1="19.60" x2="108.70" y2="19.60" stroke="#ff0000" stroke-width="2.4"/>
<text class="lg" transform="translate(111.43 23.90) scale(1 1.045)">pa6_f090</text>
<line x1="181.93" y1="19.60" x2="209.73" y2="19.60" stroke="#0000ff" stroke-width="2.4"/>
<text class="lg" transform="translate(212.46 23.90) scale(1 1.045)">pa4_f150</text>
<line x1="282.96" y1="19.60" x2="310.76" y2="19.60" stroke="#ffc000" stroke-width="2.4"/>
<text class="lg" transform="translate(313.49 23.90) scale(1 1.045)">pa5_f150</text>
<line x1="383.99" y1="19.60" x2="411.79" y2="19.60" stroke="#ff00ff" stroke-width="2.4"/>
<text class="lg" transform="translate(414.52 23.90) scale(1 1.045)">pa6_f150</text>
<line x1="485.02" y1="19.60" x2="512.82" y2="19.60" stroke="#00de00" stroke-width="2.4"/>
<text class="lg" transform="translate(515.55 23.90) scale(1 1.045)">pa4_f220</text>
<line x1="586.05" y1="19.60" x2="613.85" y2="19.60" stroke="#00ffff" stroke-width="2.4"/>
</g>
</g>
</svg>
</body></html>
